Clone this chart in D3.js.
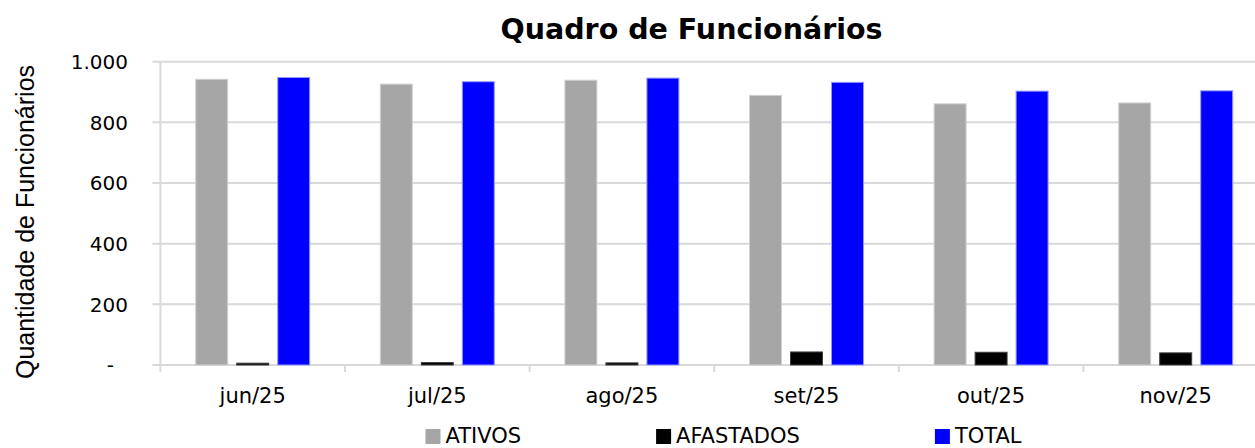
<!DOCTYPE html>
<html>
<head>
<meta charset="utf-8">
<script src="https://cdn.jsdelivr.net/npm/d3@7"></script>
<style>
  body { margin: 0; background: #fff; }
  svg { display: block; }
  .grid line { stroke: #d9d9d9; stroke-width: 2; }
</style>
</head>
<body>
<svg id="chart" width="1255" height="448"></svg>
<script>
// data
var months = ['jun/25', 'jul/25', 'ago/25', 'set/25', 'out/25', 'nov/25'];
var ativos = [942, 926, 939, 889, 861, 864];
var afastados = [6, 8, 7, 43, 42, 40];
var total = [948, 934, 946, 932, 903, 904];
var seriesNames = ['ATIVOS', 'AFASTADOS', 'TOTAL'];
var yTicks = [0, 200, 400, 600, 800, 1000];

var colors = {ATIVOS: '#a6a6a6', AFASTADOS: '#000000', TOTAL: '#0000ff'};
var strokes = {ATIVOS: '#d0d0d0', AFASTADOS: '#404040', TOTAL: '#9a9aff'};
var font = 'DejaVu Sans, Verdana, sans-serif';

var svg = d3.select('#chart');
var margin = {left: 160.4, right: 1268, top: 61.7, bottom: 365};

var x = d3.scaleBand().domain(months).range([margin.left, margin.right]).padding(0);
var xs = d3.scaleBand().domain(seriesNames).range([0, x.bandwidth()])
    .paddingInner(0.22).paddingOuter(0.861);
var y = d3.scaleLinear().domain([0, 1000]).range([margin.bottom, margin.top]);

var pt = d3.formatLocale({decimal: ',', thousands: '.', grouping: [3], currency: ['R$', '']});
var fmt = pt.format(',d');

// gridlines
var grid = svg.append('g').attr('class', 'grid');
grid.selectAll('line').data(yTicks).enter().append('line')
    .attr('x1', margin.left - 8).attr('x2', 1255)
    .attr('y1', function(d) { return y(d); })
    .attr('y2', function(d) { return y(d); });

// left axis line + category boundary ticks
grid.append('line')
    .attr('x1', margin.left).attr('x2', margin.left)
    .attr('y1', margin.top).attr('y2', margin.bottom + 7);
grid.selectAll('.ct').data(months.slice(1)).enter().append('line')
    .attr('x1', function(d) { return x(d); })
    .attr('x2', function(d) { return x(d); })
    .attr('y1', margin.bottom).attr('y2', margin.bottom + 7);

// y tick labels
svg.append('g').selectAll('text').data(yTicks).enter().append('text')
    .attr('x', function(d) { return d === 0 ? 114 : 128; })
    .attr('y', function(d) { return y(d); })
    .attr('dy', '0.36em')
    .attr('text-anchor', 'end')
    .style('font-family', font).style('font-size', '20px').attr('fill', '#000')
    .text(function(d) { return d === 0 ? '-' : fmt(d); });

// bars
var rows = months.map(function(m, i) {
    return {month: m, vals: [
        {key: 'ATIVOS', v: ativos[i]},
        {key: 'AFASTADOS', v: afastados[i]},
        {key: 'TOTAL', v: total[i]}
    ]};
});
var groups = svg.append('g').selectAll('g').data(rows).enter().append('g')
    .attr('transform', function(d) { return 'translate(' + x(d.month) + ',0)'; });
groups.selectAll('rect').data(function(d) { return d.vals; }).enter().append('rect')
    .attr('x', function(d) { return xs(d.key); })
    .attr('width', xs.bandwidth())
    .attr('y', function(d) { return y(d.v); })
    .attr('height', function(d) { return y(0) - y(d.v); })
    .attr('fill', function(d) { return colors[d.key]; })
    .attr('stroke', function(d) { return strokes[d.key]; })
    .attr('stroke-width', 1);

// x labels
svg.append('g').selectAll('text').data(months).enter().append('text')
    .attr('x', function(d) { return x(d) + x.bandwidth() / 2; })
    .attr('y', 403)
    .attr('text-anchor', 'middle')
    .style('font-family', font).style('font-size', '21px').attr('fill', '#000')
    .text(function(d) { return d; });

// title
svg.append('text')
    .attr('x', 691.5).attr('y', 39)
    .attr('text-anchor', 'middle')
    .style('font-family', font).style('font-size', '28.5px').style('font-weight', 'bold')
    .text('Quadro de Funcionários');

// y axis title
svg.append('text')
    .attr('transform', 'translate(34,222) rotate(-90)')
    .attr('text-anchor', 'middle')
    .style('font-family', 'Liberation Sans, Arial, sans-serif').style('font-size', '25px')
    .attr('fill', '#000')
    .text('Quantidade de Funcionários');

// legend, items separated by equal gaps, centred
var legend = svg.append('g');
var items = legend.selectAll('g').data(seriesNames).enter().append('g');
items.append('rect').attr('width', 15).attr('height', 15).attr('y', 429)
    .attr('fill', function(d) { return colors[d]; });
items.append('text').attr('x', 20).attr('y', 443)
    .style('font-family', font).style('font-size', '21px').attr('fill', '#000')
    .text(function(d) { return d; });
var widths = [];
items.each(function() { widths.push(20 + d3.select(this).select('text').node().getComputedTextLength()); });
var gap = 135;
var totalW = d3.sum(widths) + gap * (widths.length - 1);
var cx = 723.5 - totalW / 2;
items.attr('transform', function(d, i) {
    var t = 'translate(' + cx + ',0)';
    cx += widths[i] + gap;
    return t;
});
</script>
</body>
</html>
